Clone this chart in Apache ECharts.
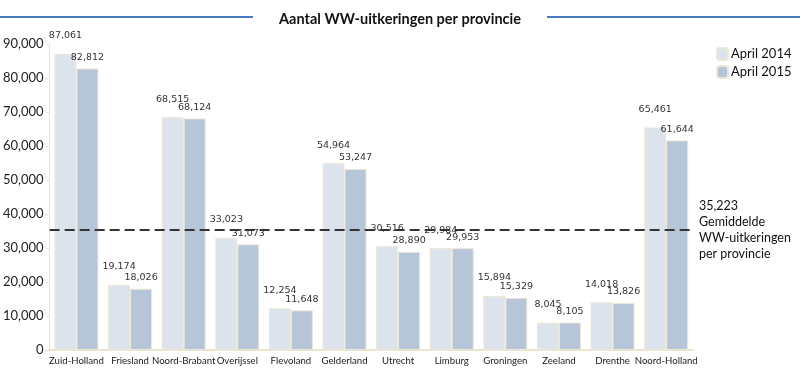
<!DOCTYPE html>
<html><head><meta charset="utf-8">
<script src="https://cdn.jsdelivr.net/npm/echarts@6/dist/echarts.min.js"></script>
<style>html,body{margin:0;padding:0;background:#fff}#c{width:800px;height:380px}</style>
</head><body><div id="c"></div>
<script>
const categories = ['Zuid-Holland','Friesland','Noord-Brabant','Overijssel','Flevoland','Gelderland','Utrecht','Limburg','Groningen','Zeeland','Drenthe','Noord-Holland'];
const april2014 = [87061,19174,68515,33023,12254,54964,30516,29984,15894,8045,14018,65461];
const april2015 = [82812,18026,68124,31073,11648,53247,28890,29953,15329,8105,13826,61644];
const average = 35223;
const yTicks = {min:0, max:90000, interval:10000};

const fmt = v => v.toLocaleString('en-US');
const chart = echarts.init(document.getElementById('c'));
const labelFont = {fontFamily:'DejaVu Sans', fontSize:9.5, color:'#333'};
chart.setOption({
  animation:false,
  title:{text:'Aantal WW-uitkeringen per provincie', left:'center', top:7,
    textStyle:{fontFamily:'Lato', fontWeight:'bold', fontSize:14.5, color:'#111'}},
  graphic:[
    {type:'line', shape:{x1:0,y1:17,x2:253,y2:17}, style:{stroke:'#4a7bc0', lineWidth:2}},
    {type:'line', shape:{x1:547,y1:17,x2:800,y2:17}, style:{stroke:'#4a7bc0', lineWidth:2}}
  ],
  legend:{orient:'vertical', left:711, top:42, itemWidth:11, itemHeight:12, itemGap:4,
    textStyle:{fontFamily:'Lato', fontSize:13, color:'#111', padding:[0,0,0,-2]},
    data:['April 2014','April 2015']},
  grid:{left:47, right:107, top:44, bottom:30},
  xAxis:{type:'category', data:categories,
    axisLine:{lineStyle:{color:'#e8e4d0', width:2}}, axisTick:{show:false},
    axisLabel:{fontFamily:'Lato', fontSize:9.6, color:'#222', interval:0, margin:6}},
  yAxis:{type:'value', min:yTicks.min, max:yTicks.max, interval:yTicks.interval,
    splitLine:{show:false},
    axisLine:{show:true, lineStyle:{color:'#e8e4d0', width:1}},
    axisTick:{show:true, length:4, lineStyle:{color:'#e8e4d0'}},
    axisLabel:{fontFamily:'Lato', fontSize:13, color:'#222', margin:6, formatter:v=>fmt(v)}},
  series:[
    {name:'April 2014', type:'bar', data:april2014, barGap:'0%', barCategoryGap:'18%',
     itemStyle:{color:'#dde3ed', borderColor:'#ece8d6', borderWidth:1},
     label:{show:true, position:'top', distance:13, formatter:p=>fmt(p.value), ...labelFont}},
    {name:'April 2015', type:'bar', data:april2015,
     itemStyle:{color:'#b7c5d9', borderColor:'#ece8d6', borderWidth:1},
     label:{show:true, position:'top', distance:6, formatter:p=>fmt(p.value), ...labelFont},
     markLine:{silent:true, symbol:'none', z:10,
       lineStyle:{type:[10,5], color:'#333', width:2},
       label:{show:true, position:'end', distance:6, align:'left',
         fontFamily:'Lato', fontSize:12.5, color:'#111', lineHeight:16,
         formatter:()=>fmt(average)+'\nGemiddelde\nWW-uitkeringen\nper provincie'},
       data:[{yAxis:average}]}}
  ]
});
</script></body></html>
